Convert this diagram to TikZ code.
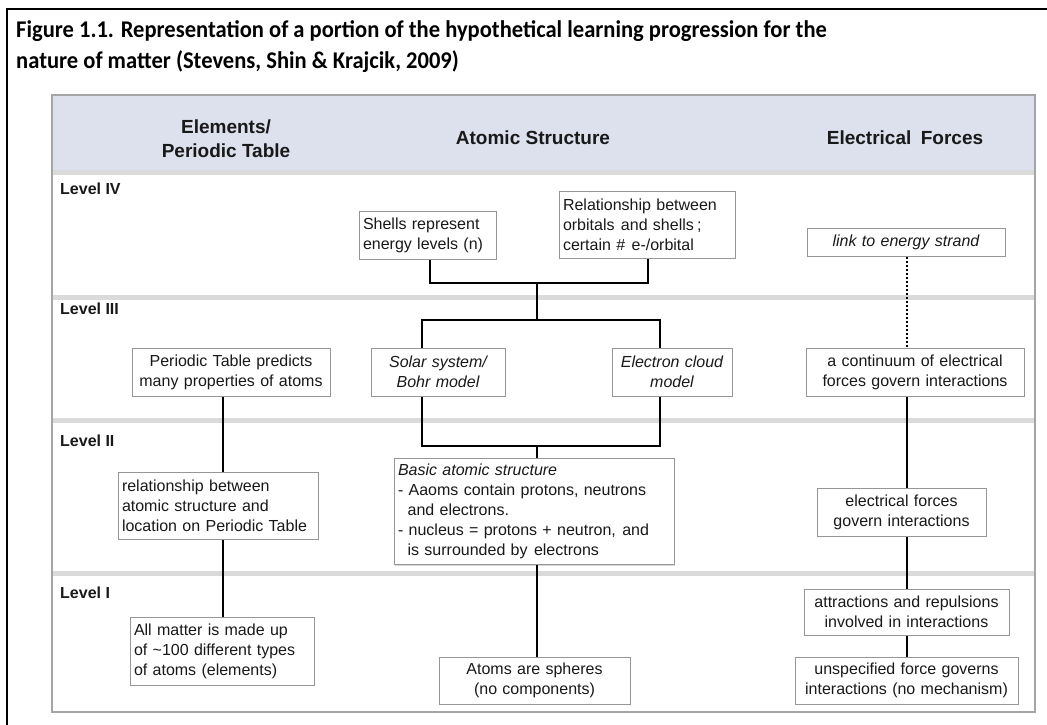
\documentclass[tikz,border=0pt]{standalone}
\usepackage{fontspec}
\setmainfont{Liberation Sans}
\newfontfamily\titlefont[FakeStretch=0.94]{Carlito}
\usetikzlibrary{shadows}
\definecolor{headfill}{RGB}{221,225,238}
\definecolor{sepgray}{RGB}{218,218,218}
\definecolor{tabgray}{RGB}{165,165,165}
\definecolor{boxgray}{RGB}{150,150,150}
\definecolor{textcol}{RGB}{25,25,25}
\begin{document}
\begin{tikzpicture}[x=1pt,y=-1pt,
  box/.style={draw=boxgray, line width=1pt, fill=white, inner xsep=4pt, inner ysep=0pt,
    text=textcol, font=\fontsize{16}{20}\selectfont,
    drop shadow={shadow xshift=1.2pt, shadow yshift=-1.2pt, fill=black!30}},
  lbox/.style={box, align=left},
  cbox/.style={box, align=center},
  hdr/.style={font=\bfseries\fontsize{19}{24}\selectfont, text=textcol, align=center, inner sep=0pt},
  lvl/.style={font=\bfseries\fontsize{16}{18}\selectfont, text=textcol, anchor=west, inner sep=0pt},
  conn/.style={line width=2pt, black},
  dotconn/.style={line width=2pt, black, dash pattern=on 2pt off 2pt}]
\useasboundingbox (0,0) rectangle (1047,725);
\fill[white] (0,0) rectangle (1047,725);

% outer frame
\draw[line width=2.5pt] (7,726) -- (7,9) -- (1048,9);

% title
\node[anchor=base west, align=left, inner sep=0pt,
  font=\titlefont\bfseries\fontsize{24}{32}\selectfont] (title) at (16,69)
  {Figure 1.1. Representation of a portion of the hypothetical learning progression for the\\
   nature of matter (Stevens, Shin \& Krajcik, 2009)};

% table background and bands
\fill[headfill] (52,95) rectangle (1035,171);
\fill[sepgray] (52,170) rectangle (1035,175);
\fill[sepgray] (52,295) rectangle (1035,300);
\fill[sepgray] (52,418) rectangle (1035,423);
\fill[sepgray] (52,571) rectangle (1035,576);
\draw[tabgray, line width=1.5pt] (52,95) rectangle (1035,712);

% headers
\node[hdr] (hElem) at (226,139) {Elements/\\Periodic Table};
\node[hdr] (hAtom) at (533,138) {Atomic Structure};
\node[hdr] (hElec) at (905,138) {Electrical\hspace{0.5em}Forces};

% level labels
\node[lvl] (l4) at (60,189) {Level IV};
\node[lvl] (l3) at (60,309) {Level III};
\node[lvl] (l2) at (60,441) {Level II};
\node[lvl] (l1) at (60,593) {Level I};

% column x references
\coordinate (cS) at (430,0);
\coordinate (cRel) at (648,0);
\coordinate (cL) at (422,0);
\coordinate (cR) at (660,0);
\coordinate (cM) at (537,0);
\coordinate (cE) at (907,0);
\coordinate (cP) at (223,0);
\coordinate (j4) at (537,283);
\coordinate (j3) at (537,320);
\coordinate (j2) at (537,446);

% boxes
\node[lbox, minimum width=137pt, minimum height=48pt, text width=129pt] (shells) at (427.5,235)
  {Shells represent\\energy levels (n)};
\node[lbox, minimum width=176pt, minimum height=67pt, text width=168pt] (relIV) at (647,224.5)
  {Relationship between\\orbitals\hspace{0.4em}and shells\hspace{0.2em};\\certain \#\hspace{0.4em}e-/orbital};
\node[cbox, minimum width=198pt, minimum height=28pt, text width=190pt] (link) at (906,242)
  {\itshape link to energy strand};
\node[cbox, minimum width=198pt, minimum height=48pt, text width=190pt] (ptp) at (231,372)
  {Periodic Table predicts\\many properties of atoms};
\node[cbox, minimum width=134pt, minimum height=48pt, text width=126pt] (solar) at (438,372)
  {\itshape Solar system/\\\itshape Bohr model};
\node[cbox, minimum width=120pt, minimum height=48pt, text width=112pt] (cloud) at (672,372)
  {\itshape Electron cloud\\\itshape model};
\node[cbox, minimum width=218pt, minimum height=48pt, text width=210pt] (cont) at (915,372)
  {a continuum of electrical\\forces govern interactions};
\node[lbox, minimum width=200pt, minimum height=67pt, text width=192pt] (relII) at (218,505.5)
  {relationship between\\atomic structure and\\location on Periodic Table};
\node[lbox, minimum width=280pt, minimum height=106pt, text width=272pt] (basic) at (534,511.5)
  {\textit{Basic atomic structure}\\- Aaoms contain protons, neutrons\\\hspace*{0.6em}and electrons.\\- nucleus = protons + neutron,\hspace{0.4em}and\\\hspace*{0.6em}is surrounded by\hspace{0.4em}electrons};
\node[cbox, minimum width=169pt, minimum height=48pt, text width=161pt] (ef) at (901.5,512)
  {electrical forces\\govern interactions};
\node[lbox, minimum width=184pt, minimum height=68pt, text width=176pt] (allm) at (222,651)
  {All matter is made up\\of \textasciitilde100 different types\\of atoms (elements)};
\node[cbox, minimum width=191pt, minimum height=47pt, text width=183pt] (atoms) at (534.5,680.5)
  {Atoms are spheres\\(no components)};
\node[cbox, minimum width=205pt, minimum height=46pt, text width=197pt] (attr) at (906.5,612)
  {attractions and repulsions\\involved in interactions};
\node[cbox, minimum width=223pt, minimum height=47pt, text width=215pt] (unsp) at (906.5,680.5)
  {unspecified force governs\\interactions (no mechanism)};

% connectors
\draw[conn] (shells.south -| cS) |- (j4) -| (relIV.south -| cRel);
\draw[conn] (j4) -- (j3);
\draw[conn] (solar.north -| cL) |- (j3) -| (cloud.north -| cR);
\draw[conn] (solar.south -| cL) |- (j2) -| (cloud.south -| cR);
\draw[conn] (j2) -- (basic.north -| cM);
\draw[conn] (basic.south -| cM) -- (atoms.north -| cM);
\draw[conn] (ptp.south -| cP) -- (relII.north -| cP);
\draw[conn] (relII.south -| cP) -- (allm.north -| cP);
\draw[dotconn] (link.south -| cE) -- (cont.north -| cE);
\draw[conn] (cont.south -| cE) -- (ef.north -| cE);
\draw[conn] (ef.south -| cE) -- (attr.north -| cE);
\draw[conn] (attr.south -| cE) -- (unsp.north -| cE);
\end{tikzpicture}
\end{document}
